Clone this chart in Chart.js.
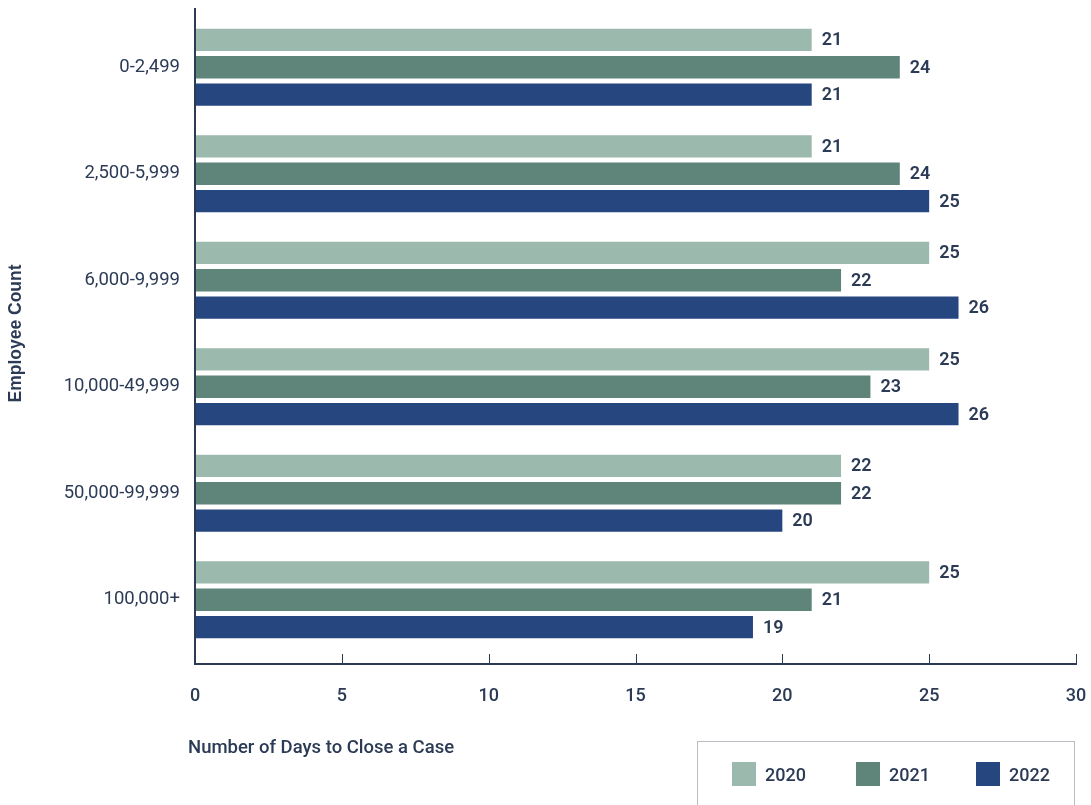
<!DOCTYPE html>
<html>
<head>
<meta charset="utf-8">
<script src="https://cdn.jsdelivr.net/npm/chart.js@4"></script>
<style>
  html, body { margin: 0; padding: 0; background: #ffffff; }
  #wrap { position: relative; width: 1091px; height: 805px; }
  #legend {
    position: absolute; left: 697px; top: 741px; width: 378px; height: 80px;
    border: 1px solid #b9bcc2; box-sizing: border-box;
    font-family: Roboto, sans-serif; font-size: 18px; font-weight: 500; color: #2b3a55;
  }
  #legend .item { position: absolute; top: 20px; display: flex; align-items: center; }
  #legend .sw { width: 24px; height: 24px; margin-right: 9px; }
</style>
</head>
<body>
<div id="wrap">
  <canvas id="grafico" width="1091" height="805"></canvas>
  <div id="legend"></div>
</div>
<script>
// Datos

const categorias = ["0-2,499", "2,500-5,999", "6,000-9,999", "10,000-49,999", "50,000-99,999", "100,000+"];

const anios = ["2020", "2021", "2022"];

const dias2020 = [21, 21, 25, 25, 22, 25];
const dias2021 = [24, 24, 22, 23, 22, 21];
const dias2022 = [21, 25, 26, 26, 20, 19];

const ticksX = [0, 5, 10, 15, 20, 25, 30];

const colores = ["#9bb9ad", "#5f847a", "#26467f"];
const tinta = "#2b3a55";

// Zona de las barras
const zona = { left: 195, right: 1076, top: 14, bottom: 653 };

// Marcas invisibles: sólo separan las etiquetas del eje
function marcasInvisibles(largo) {
    return {
        display: true,
        drawOnChartArea: false,
        drawTicks: true,
        tickLength: largo,
        color: "rgba(0,0,0,0)"
    };
}

// Ejes y etiquetas dibujados a mano

const ejes = {
    id: "ejes",
    afterDraw(chart) {
        const c = chart.ctx;
        const xs = chart.scales.x;
        const area = chart.chartArea;
        const yBase = 664;

        c.save();
        c.strokeStyle = tinta;
        c.lineWidth = 1;
        ticksX.forEach(function (t) {
            if (t === 0) return;
            const px = Math.round(xs.getPixelForValue(t)) + 0.5;
            c.beginPath();
            c.moveTo(px, yBase - 10);
            c.lineTo(px, yBase);
            c.stroke();
        });

        c.lineWidth = 2;
        c.beginPath();
        c.moveTo(area.left, 8);
        c.lineTo(area.left, yBase);
        c.lineTo(xs.getPixelForValue(30) + 1, yBase);
        c.stroke();

        c.fillStyle = tinta;
        c.font = "500 18.5px Roboto";
        c.textAlign = "left";
        c.textBaseline = "middle";
        c.fillText("Number of Days to Close a Case", 188, 748);
        c.restore();
    }
};

const valores = {
    id: "valores",
    afterDatasetsDraw(chart) {
        const c = chart.ctx;
        c.save();
        c.fillStyle = tinta;
        c.font = "600 18px Roboto";
        c.textAlign = "left";
        c.textBaseline = "middle";
        chart.data.datasets.forEach(function (ds, i) {
            chart.getDatasetMeta(i).data.forEach(function (bar, j) {
                c.fillText(ds.data[j], bar.x + 10, bar.y + 1);
            });
        });
        c.restore();
    }
};

// Crear gráfico

const ctx = document.getElementById("grafico");

const grafico = new Chart(ctx, {

    type: "bar",

    data: {
        labels: categorias,
        datasets: [
            { label: anios[0], data: dias2020, backgroundColor: colores[0] },
            { label: anios[1], data: dias2021, backgroundColor: colores[1] },
            { label: anios[2], data: dias2022, backgroundColor: colores[2] }
        ]
    },

    options: {
        indexAxis: "y",
        responsive: false,
        animation: false,
        layout: {
            padding: { top: 15, right: 15, left: 0, bottom: 0 }
        },
        datasets: {
            bar: {
                categoryPercentage: 0.77,
                barPercentage: 0.82
            }
        },
        plugins: {
            legend: { display: false },
            tooltip: { enabled: false }
        },
        scales: {
            x: {
                min: 0,
                max: 30,
                ticks: {
                    stepSize: 5,
                    padding: 0,
                    color: tinta,
                    font: { family: "Roboto", size: 18, weight: "500" }
                },
                grid: marcasInvisibles(33),
                border: { display: false },
                afterFit: function (axis) { axis.height = 153; }
            },
            y: {
                ticks: {
                    padding: 0,
                    color: tinta,
                    font: { family: "Roboto", size: 18.5 }
                },
                grid: marcasInvisibles(15),
                border: { display: false },
                title: {
                    display: true,
                    text: "Employee Count",
                    color: tinta,
                    padding: { top: 6, bottom: 0 },
                    font: { family: "Liberation Sans", size: 17.5, weight: "bold" }
                },
                afterFit: function (axis) { axis.width = 195; }
            }
        }
    },

    plugins: [ejes, valores]

});

// Ajustar el relleno para que la zona de barras quede en su sitio
const pad = grafico.options.layout.padding;
const a = grafico.chartArea;
pad.top += zona.top - a.top;
pad.right += a.right - zona.right;
pad.bottom += a.bottom - zona.bottom;
grafico.update();

// Leyenda

const posLeyenda = [34, 158, 278];
const leyenda = document.getElementById("legend");
anios.forEach(function (año, i) {
    const item = document.createElement("div");
    item.className = "item";
    item.style.left = posLeyenda[i] + "px";
    item.innerHTML = '<span class="sw" style="background:' + colores[i] + '"></span><span>' + año + '</span>';
    leyenda.appendChild(item);
});
</script>
</body>
</html>
